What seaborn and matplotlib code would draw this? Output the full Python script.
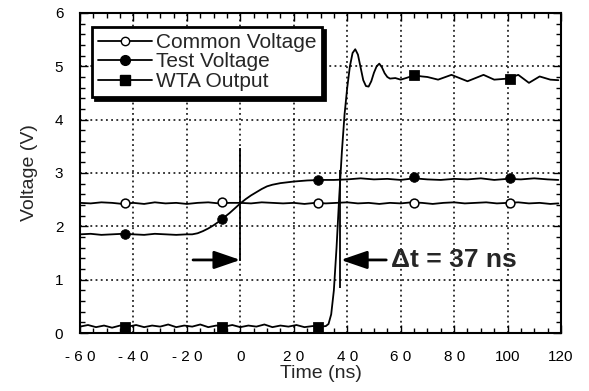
import numpy as np
import pandas as pd
import matplotlib
matplotlib.use("Agg")
import matplotlib.pyplot as plt
from matplotlib.lines import Line2D
from matplotlib.ticker import MultipleLocator, FixedLocator
import seaborn as sns

# ---------------- data ----------------
common_t = [-60, -56, -52, -48, -44, -40, -36, -32, -28, -24, -20, -16, -12, -8, -4, 0,
            4, 8, 12, 16, 20, 24, 28, 32, 36, 40, 44, 48, 52, 56, 60, 64, 68, 72, 76,
            80, 84, 88, 92, 96, 100, 104, 108, 112, 116, 119]
common_v = [2.44, 2.43, 2.45, 2.44, 2.42, 2.44, 2.42, 2.45, 2.43, 2.44, 2.42, 2.44, 2.45, 2.43, 2.44, 2.44,
            2.43, 2.45, 2.44, 2.43, 2.44, 2.42, 2.44, 2.43, 2.44, 2.45, 2.43, 2.44, 2.42, 2.44, 2.43, 2.45, 2.44, 2.42, 2.44,
            2.45, 2.43, 2.44, 2.45, 2.43, 2.44, 2.45, 2.43, 2.44, 2.42, 2.43]

test_t = [-60, -56, -52, -48, -44, -40, -36, -32, -28, -24, -20, -18, -16, -14, -12, -10, -8, -6, -4, -2, 0,
          2, 4, 6, 8, 10, 12, 15, 20, 25, 30, 35, 40, 45, 50, 55, 60, 65, 70, 75, 80, 85, 90,
          95, 100, 105, 110, 115, 119]
test_v = [1.85, 1.86, 1.84, 1.85, 1.86, 1.85, 1.84, 1.86, 1.85, 1.84, 1.85, 1.85, 1.87, 1.91, 1.96, 2.02, 2.09, 2.17, 2.25, 2.34, 2.43,
          2.51, 2.58, 2.64, 2.70, 2.75, 2.78, 2.81, 2.84, 2.86, 2.87, 2.87, 2.88, 2.90, 2.88, 2.89, 2.87, 2.90, 2.88, 2.87, 2.89, 2.88, 2.90,
          2.87, 2.89, 2.88, 2.90, 2.88, 2.87]

wta_t = [-60, -57, -54, -51, -48, -45, -42, -39, -36, -33, -30, -27, -24, -21, -18, -15, -12, -9, -6, -3, 0,
         3, 6, 9, 12, 15, 18, 21, 24, 27, 30, 32, 33, 34, 35, 36, 37, 38, 39, 40, 41, 42, 43, 44, 45,
         46, 47, 48, 49, 50, 51, 52, 53, 54, 55, 56, 58, 60, 62, 65, 68, 70, 74, 79, 85, 91, 95,
         100, 104, 108, 112, 116, 119]
wta_v = [0.12, 0.15, 0.11, 0.14, 0.10, 0.14, 0.12, 0.15, 0.11, 0.14, 0.12, 0.16, 0.11, 0.14, 0.12, 0.16, 0.11, 0.14, 0.12, 0.15, 0.11,
         0.14, 0.12, 0.16, 0.11, 0.14, 0.12, 0.15, 0.11, 0.13, 0.12, 0.13, 0.17, 0.35, 0.80, 1.60, 2.55, 3.40, 4.10, 4.60, 5.00, 5.25, 5.32, 5.22, 4.98,
         4.74, 4.63, 4.62, 4.72, 4.88, 5.00, 5.05, 4.98, 4.87, 4.80, 4.77, 4.78, 4.75, 4.78, 4.83, 4.81, 4.80, 4.75, 4.84, 4.72, 4.84, 4.75,
         4.77, 4.84, 4.69, 4.81, 4.75, 4.74]

marker_t = [-43, -7, 29, 65, 101]
common_marker_v = [2.44, 2.45, 2.44, 2.44, 2.44]
test_marker_v = [1.85, 2.14, 2.87, 2.92, 2.90]
wta_marker_v = [0.12, 0.12, 0.12, 4.83, 4.77]

series_names = ["Common Voltage", "Test Voltage", "WTA Output"]

x_ticks = [-60, -40, -20, 0, 20, 40, 60, 80, 100, 120]
x_tick_labels = ["- 6 0", "- 4 0", "- 2 0", "0", "2 0", "4 0", "6 0", "8 0", "100", "120"]
y_ticks = [0, 1, 2, 3, 4, 5, 6]

# annotation values
start_t, end_t = 0, 37.3
marker_line_start = [1.35, 3.47]
marker_line_end = [0.84, 3.05]
arrow_v = 1.37
left_arrow_from = -17.7
right_arrow_from = 54.6
delta_label = "Δt = 37 ns"

# ---------------- plotting ----------------
sns.set_theme(style="ticks")
plt.rcParams['font.family'] = ['Liberation Sans', 'DejaVu Sans']

fig = plt.figure(figsize=(5.89, 3.91), dpi=100)
ax = fig.add_axes([0.1358, 0.1483, 0.8167, 0.8185])

df_c = pd.DataFrame({"t": common_t, "v": common_v})
df_t = pd.DataFrame({"t": test_t, "v": test_v})
df_w = pd.DataFrame({"t": wta_t, "v": wta_v})

lw = 1.3
for d in (df_c, df_t, df_w):
    sns.lineplot(data=d, x="t", y="v", ax=ax, color="black", lw=lw, sort=False,
                 estimator=None, legend=False, zorder=3)

mdf = pd.DataFrame({"t": marker_t, "c": common_marker_v, "s": test_marker_v, "w": wta_marker_v})
sns.scatterplot(data=mdf, x="t", y="c", ax=ax, marker="o", s=40, facecolor="white",
                edgecolor="black", linewidth=1.1, zorder=4, legend=False)
sns.scatterplot(data=mdf, x="t", y="s", ax=ax, marker="o", s=48, color="black",
                edgecolor="black", zorder=4, legend=False)
sns.scatterplot(data=mdf, x="t", y="w", ax=ax, marker="s", s=48, color="black",
                edgecolor="black", zorder=4, legend=False)

# vertical timing marks and arrows
ax.vlines(start_t, marker_line_start[0], marker_line_start[1], color="black", lw=1.3, zorder=5)
ax.vlines(end_t, marker_line_end[0], marker_line_end[1], color="black", lw=1.3, zorder=5)
ax.annotate("", xy=(start_t, arrow_v), xytext=(left_arrow_from, arrow_v),
            arrowprops=dict(arrowstyle="-|>,head_length=1.6,head_width=0.55", mutation_scale=10,
                            color="black", lw=2.0, shrinkA=0, shrinkB=0), zorder=6)
ax.annotate("", xy=(end_t + 0.3, arrow_v), xytext=(right_arrow_from, arrow_v),
            arrowprops=dict(arrowstyle="-|>,head_length=1.6,head_width=0.55", mutation_scale=10,
                            color="black", lw=2.0, shrinkA=0, shrinkB=0), zorder=6)
ax.text(56.5, arrow_v, delta_label, fontsize=19, fontweight="bold", va="center", ha="left", zorder=6)

# axes
ax.set_xlim(-60, 120)
ax.set_ylim(0, 6)
ax.xaxis.set_major_locator(FixedLocator(x_ticks))
ax.set_xticklabels(x_tick_labels)
ax.yaxis.set_major_locator(FixedLocator(y_ticks))
ax.xaxis.set_minor_locator(MultipleLocator(5))
ax.yaxis.set_minor_locator(MultipleLocator(0.2))
ax.tick_params(which="both", direction="in", top=True, right=True, colors="black", width=1.0)
ax.tick_params(which="major", length=6, labelsize=11, pad=12)
ax.tick_params(which="minor", length=3.5)
ax.grid(True, which="major", color="black", linestyle=(0, (1.2, 2.2)), lw=1.1)
for sp in ax.spines.values():
    sp.set_color("black")
    sp.set_linewidth(1.5)
ax.set_xlabel("Time (ns)", fontsize=14, labelpad=1)
ax.set_ylabel("Voltage (V)", fontsize=14, labelpad=12)

handles = [
    Line2D([], [], color="black", lw=lw, marker="o", markerfacecolor="white", markeredgecolor="black", markersize=6),
    Line2D([], [], color="black", lw=lw, marker="o", markerfacecolor="black", markersize=7),
    Line2D([], [], color="black", lw=lw, marker="s", markerfacecolor="black", markersize=7),
]
leg = ax.legend(handles, series_names, loc="upper left", bbox_to_anchor=(0.025, 0.957),
                fontsize=15, frameon=True, fancybox=False, framealpha=1, edgecolor="black",
                shadow={"color": "black", "alpha": 1}, borderpad=0.3, labelspacing=0.02,
                handlelength=2.6, handletextpad=0.15, borderaxespad=0)
leg.get_frame().set_linewidth(2.0)
leg.set_zorder(10)

fig.savefig("out.png", dpi=100)
